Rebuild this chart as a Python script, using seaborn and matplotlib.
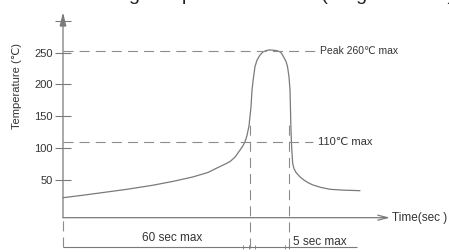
import matplotlib
matplotlib.use('Agg')
import matplotlib.pyplot as plt
import seaborn as sns
import pandas as pd

# reflow profile (time in arbitrary units, temperature in C)
time_s = [0, 20, 40, 64, 90, 110, 130, 145, 154, 162, 167, 172, 177, 180, 182,
          184, 186, 188, 189, 190, 192, 194, 197, 200, 204, 207, 211, 215, 218, 221,
          223, 224.5, 226, 227, 227.5, 227.8, 228.3, 228.7, 229.2, 229.7, 231, 233,
          237, 241, 245, 250, 258, 267, 280, 297]
temp_c = [22.4, 26.3, 30.5, 35.6, 42, 48, 55, 62, 69, 75, 79, 86, 97, 104, 110,
          120, 135, 165, 191, 205, 228, 238, 246, 251, 253.5, 254, 253.5, 252.5, 250, 242,
          236, 228, 212, 191, 160, 139, 115, 100, 88, 76, 68, 62,
          55, 50, 46, 42.3, 38.5, 35.6, 34.3, 33.4]

y_ticks = [50, 100, 150, 200, 250, 300]
y_tick_labels = ['50', '100', '150', '200', '250', '']
peak_level = 253
preheat_level = 110
t_enter = 187      # where the dashed markers drop down
t_leave = 226
t_end_axis = 327
bottom_level = -55
axis_level = -8.9

df = pd.DataFrame({'time': time_s, 'temp': temp_c})

sns.set_style('white')
plt.rcParams['font.family'] = ['Liberation Sans', 'DejaVu Sans']

fig = plt.figure(figsize=(4.49, 2.52), dpi=100)
ax = fig.add_axes([0, 0, 1, 1])
ax.set_xlim(-63, 386)
ax.set_ylim(-62.7, 332.3)

line_c = '#7a7a7a'
dash_c = '#8c8c8c'
text_c = '#333333'
dash = (9, 5.5)

sns.lineplot(data=df, x='time', y='temp', sort=False, estimator=None,
             color=line_c, lw=0.9, ax=ax)

# dashed guide lines
ax.hlines(peak_level, 0, 255, colors=dash_c, lw=0.8, linestyles=(0, dash))
ax.hlines(preheat_level, 0, 250, colors=dash_c, lw=0.8, linestyles=(0, dash))
ax.vlines([t_enter, t_leave], bottom_level - 2, 139, colors=dash_c, lw=0.8, linestyles=(0, dash))
ax.vlines(0, bottom_level, axis_level, colors=dash_c, lw=0.8, linestyles=(0, dash))

# bottom duration line with small markers
ax.hlines(bottom_level, 0, 294, colors=line_c, lw=0.8)
ax.plot([180, 186, 192, 222, 226], [bottom_level] * 5, ls='none', marker='|',
        ms=3, color=line_c, mew=0.6)

# axes with arrows
ax.annotate('', xy=(0, 313), xytext=(0, axis_level),
            arrowprops=dict(arrowstyle='-|>,head_length=0.8,head_width=0.2',
                            color=line_c, lw=0.9, shrinkA=0, shrinkB=0))
ax.annotate('', xy=(t_end_axis, axis_level), xytext=(0, axis_level),
            arrowprops=dict(arrowstyle='->,head_length=0.7,head_width=0.18',
                            color=line_c, lw=0.9, shrinkA=0, shrinkB=0))

for s in ax.spines.values():
    s.set_visible(False)
ax.spines['left'].set_position(('data', 0))
ax.set_xticks([])
ax.set_yticks(y_ticks)
ax.set_yticklabels(y_tick_labels)
ax.tick_params(axis='y', direction='inout', length=11, width=0.8, color=line_c,
               labelsize=8, pad=2, labelcolor=text_c, left=True)
ax.set_xlabel('')
ax.set_ylabel('')

# texts
ax.text(-46, 197, 'Temperature (℃)', rotation=90, ha='center', va='center',
        fontsize=8, color=text_c)
ax.text(329, axis_level, 'Time(sec )', ha='left', va='center', fontsize=8.5, color=text_c)
ax.text(257, peak_level, 'Peak 260℃ max', ha='left', va='center', fontsize=7.5, color=text_c)
ax.text(255, preheat_level, '110℃ max', ha='left', va='center', fontsize=8, color=text_c)
ax.text(109, -40.8, '60 sec max', ha='center', va='center', fontsize=8.5, color=text_c)
ax.text(230, -47, '5 sec max', ha='left', va='center', fontsize=8.5, color=text_c)

# title sits mostly above the picture edge, only descenders show
fig.text(56.5 / 449, 1.0, 'Soldering Temperature Profile (Single Reflow)',
         ha='left', va='baseline', fontsize=14, color='#222222')

fig.savefig('out.png', dpi=100)
